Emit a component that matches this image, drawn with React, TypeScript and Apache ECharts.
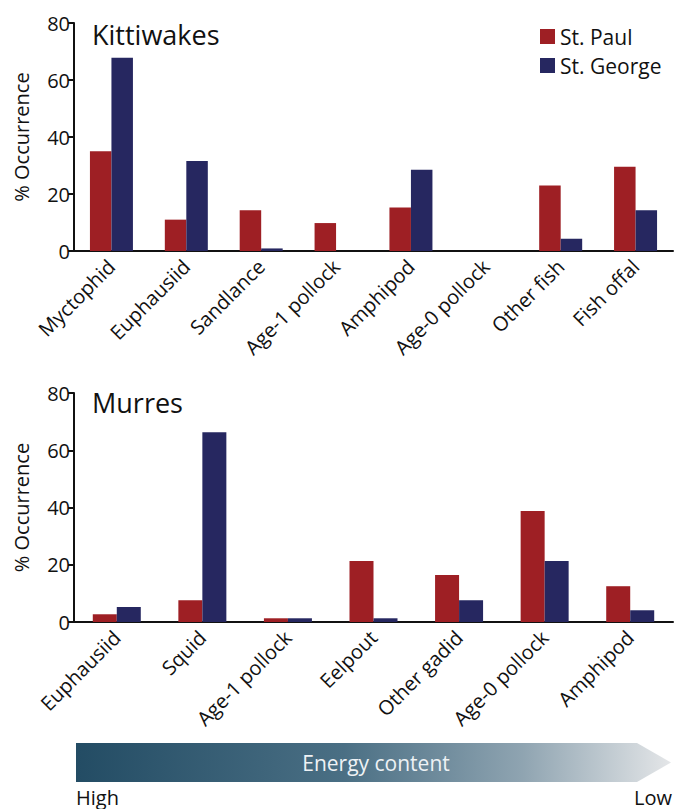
import React, { useEffect, useRef } from "react";
import * as echarts from "echarts";

const kittCategories = ["Myctophid", "Euphausiid", "Sandlance", "Age-1 pollock", "Amphipod", "Age-0 pollock", "Other fish", "Fish offal"];
const kittStPaul = [35, 11, 14.3, 9.8, 15.3, 0, 23, 29.6];
const kittStGeorge = [67.8, 31.6, 0.9, 0, 28.5, 0, 4.3, 14.3];

const murreCategories = ["Euphausiid", "Squid", "Age-1 pollock", "Eelpout", "Other gadid", "Age-0 pollock", "Amphipod"];
const murreStPaul = [2.7, 7.6, 1.3, 21.3, 16.4, 38.8, 12.5];
const murreStGeorge = [5.2, 66.3, 1.3, 1.3, 7.6, 21.3, 4.1];

const yTicks = { min: 0, max: 80, interval: 20 };
const seriesNames = ["St. Paul", "St. George"];

const RED = "#9e1f24";
const BLUE = "#262760";
const FONT = "Open Sans";

export default function App() {
  const ref = useRef<HTMLDivElement>(null);
  useEffect(() => {
    if (!ref.current) return;
    const chart = echarts.init(ref.current, null, { renderer: "svg" });
    const axisLine = { show: true, lineStyle: { color: "#111", width: 2 } };
    const makeY = (gridIndex: number) => ({
      type: "value",
      gridIndex,
      min: yTicks.min,
      max: yTicks.max,
      interval: yTicks.interval,
      splitLine: { show: false },
      axisLine,
      axisTick: { show: true, length: 6, lineStyle: { color: "#111", width: 2 } },
      axisLabel: { fontSize: 20, color: "#111", fontFamily: FONT, margin: 4 },
      name: "% Occurrence",
      nameLocation: "middle",
      nameGap: 43,
      nameTextStyle: { fontSize: 20, color: "#111", fontFamily: FONT },
    });
    const makeX = (gridIndex: number, data: string[]) => ({
      type: "category",
      gridIndex,
      data,
      axisLine,
      axisTick: { show: false },
      axisLabel: { rotate: 45, fontSize: 20, color: "#111", fontFamily: FONT, margin: 12, interval: 0 },
    });
    chart.setOption({
      animation: false,
      backgroundColor: "#fff",
      legend: {
        data: seriesNames,
        orient: "vertical",
        left: 535,
        top: 21,
        itemWidth: 15,
        itemHeight: 15,
        itemGap: 8,
        icon: "rect",
        textStyle: { fontSize: 21, color: "#111", fontFamily: FONT },
      },
      grid: [
        { left: 74, right: 4, top: 23, height: 228 },
        { left: 74, right: 4, top: 393, height: 229 },
      ],
      xAxis: [makeX(0, kittCategories), makeX(1, murreCategories)],
      yAxis: [makeY(0), makeY(1)],
      series: [
        { name: seriesNames[0], type: "bar", xAxisIndex: 0, yAxisIndex: 0, data: kittStPaul, itemStyle: { color: RED }, barWidth: 21.5, barGap: "0%" },
        { name: seriesNames[1], type: "bar", xAxisIndex: 0, yAxisIndex: 0, data: kittStGeorge, itemStyle: { color: BLUE }, barWidth: 21.5, barGap: "0%" },
        { name: seriesNames[0], type: "bar", xAxisIndex: 1, yAxisIndex: 1, data: murreStPaul, itemStyle: { color: RED }, barWidth: 24, barGap: "0%" },
        { name: seriesNames[1], type: "bar", xAxisIndex: 1, yAxisIndex: 1, data: murreStGeorge, itemStyle: { color: BLUE }, barWidth: 24, barGap: "0%" },
      ],
      graphic: [
        { type: "text", left: 92, top: 21, style: { text: "Kittiwakes", fontSize: 27, fill: "#111", fontFamily: FONT } },
        { type: "text", left: 92, top: 389, style: { text: "Murres", fontSize: 27, fill: "#111", fontFamily: FONT } },
        {
          type: "polygon",
          shape: { points: [[76, 743], [637, 743], [671, 762.5], [637, 782], [76, 782]] },
          style: {
            fill: new echarts.graphic.LinearGradient(0, 0, 1, 0, [
              { offset: 0, color: "#234c64" },
              { offset: 0.45, color: "#4a6f84" },
              { offset: 0.75, color: "#8fa4b1" },
              { offset: 1, color: "#e4e6e8" },
            ]),
          },
        },
        { type: "text", x: 376, y: 763, style: { text: "Energy content", fontSize: 21, fill: "#eef2f5", fontFamily: FONT, align: "center", verticalAlign: "middle" } },
        { type: "text", x: 76, y: 797, style: { text: "High", fontSize: 20, fill: "#111", fontFamily: FONT, align: "left", verticalAlign: "middle" } },
        { type: "text", x: 672, y: 797, style: { text: "Low", fontSize: 20, fill: "#111", fontFamily: FONT, align: "right", verticalAlign: "middle" } },
      ],
    });
    return () => chart.dispose();
  }, []);
  return <div ref={ref} style={{ position: "fixed", left: 0, top: 0, width: 677, height: 809 }} />;
}
